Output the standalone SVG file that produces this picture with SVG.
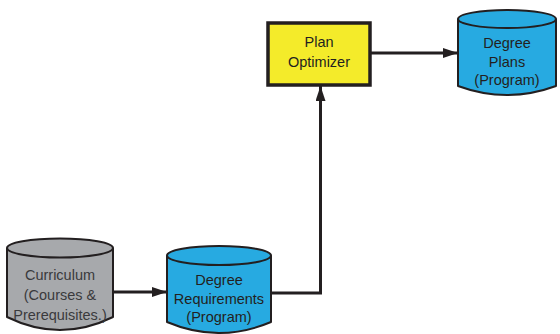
<svg xmlns="http://www.w3.org/2000/svg" width="560" height="334" viewBox="0 0 560 334">
<style>
.cyl{stroke:#231F20;stroke-width:2;stroke-linejoin:round}
.blue{fill:#27AAE1}
.gray{fill:#A7A9AC}
.box{fill:#F4EB2A;stroke:#231F20;stroke-width:3.5}
.t{font-family:"Liberation Sans",Arial,sans-serif;font-size:14.5px;text-anchor:middle;fill:#231F20}
.tg{fill:#3A3A3C}
.conn{fill:none;stroke:#231F20;stroke-width:3}
</style>
<defs>
<marker id="ah" viewBox="0 0 15 10" refX="15" refY="5" markerWidth="15" markerHeight="10" markerUnits="userSpaceOnUse" orient="auto">
<path d="M0,0 L15,5 L0,10 Z" fill="#231F20"/>
</marker>
</defs>
<rect width="560" height="334" fill="#fff"/>
<g id="connectors">
<path class="conn" d="M113,292 H167" marker-end="url(#ah)"/>
<path class="conn" d="M271,293 H320.5 V86" marker-end="url(#ah)"/>
<path class="conn" d="M370,53 H458" marker-end="url(#ah)"/>
</g>
<g id="curriculum">
<path class="cyl gray" d="M7,248 V317 Q60,343 113,317 V248"/>
<ellipse class="cyl gray" cx="60" cy="248" rx="53" ry="9.5"/>
<text class="t tg" x="60" y="280">Curriculum</text>
<text class="t tg" x="60" y="300">(Courses &amp;</text>
<text class="t tg" x="60" y="320">Prerequisites.)</text>
</g>
<g id="degree-requirements">
<path class="cyl blue" d="M167,255.5 V322 Q219,344 271,322 V255.5"/>
<ellipse class="cyl blue" cx="219" cy="255.5" rx="52" ry="9.5"/>
<text class="t" x="219" y="285">Degree</text>
<text class="t" x="219" y="304">Requirements</text>
<text class="t" x="219" y="322">(Program)</text>
</g>
<g id="plan-optimizer">
<rect class="box" x="268" y="23" width="102" height="62"/>
<text class="t" x="319" y="47">Plan</text>
<text class="t" x="319" y="67">Optimizer</text>
</g>
<g id="degree-plans">
<path class="cyl blue" d="M458,19 V86 Q507,104 556,86 V19"/>
<ellipse class="cyl blue" cx="507" cy="19" rx="49" ry="9"/>
<text class="t" x="507" y="48">Degree</text>
<text class="t" x="507" y="67">Plans</text>
<text class="t" x="507" y="85">(Program)</text>
</g>
</svg>
